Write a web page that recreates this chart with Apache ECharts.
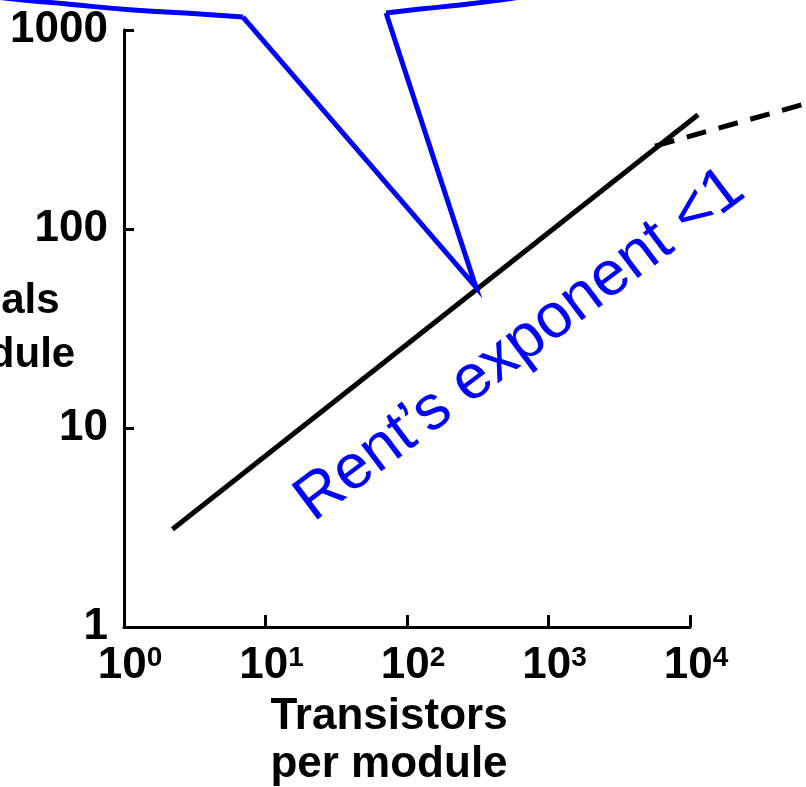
<!DOCTYPE html>
<html>
<head>
<meta charset="utf-8">
<script src="https://cdn.jsdelivr.net/npm/echarts@6/dist/echarts.min.js"></script>
<style>
html, body { margin: 0; padding: 0; background: #fff; }
#chart { width: 806px; height: 787px; }
</style>
</head>
<body>
<div id="chart"></div>
<script>
// values (log-log)
var xExponents = ['0', '1', '2', '3', '4'];
var yTickLabels = ['1', '10', '100', '1000'];
var rentLine = [[2.2, 3.1], [11400, 375]];
var rentBreak = [[5660, 261], [100000, 464]];
var calloutLeftCurve = [[0.1225, 1465], [0.193, 1415], [0.396, 1351], [1.158, 1260], [3.44, 1203], [6.93, 1162]];
var calloutStraight = [[6.93, 1162], [307, 51], [71.1, 1217]];
var calloutRightCurve = [[71.1, 1217], [123.6, 1275], [237, 1335], [454, 1415], [871, 1517]];

var font = 'Liberation Sans, Arial, sans-serif';
var myChart = echarts.init(document.getElementById('chart'));

// grid 0 carries the visible axes, grid 1 is the same mapping one decade wider
// so the lines that run past the axes are not cut off
var decadeX = 141.5, decadeY = 199;

option = {
    animation: false,
    backgroundColor: '#fff',
    grid: [{
            left: 124,
            right: 116,
            top: 30,
            bottom: 160,
            outerBoundsMode: 'none'
        },
        {
            left: 124 - decadeX,
            right: 116 - decadeX,
            top: 30 - decadeY,
            bottom: 160,
            outerBoundsMode: 'none'
        }
    ],
    xAxis: [{
            type: 'log',
            logBase: 10,
            min: 1,
            max: 10000,
            gridIndex: 0,
            name: 'Transistors\nper module',
            nameLocation: 'middle',
            nameGap: 62,
            nameTextStyle: {
                fontFamily: font,
                fontWeight: 'bold',
                fontSize: 44,
                lineHeight: 48,
                color: '#000',
                padding: [0, 36, 0, 0]
            },
            axisLine: { lineStyle: { color: '#000', width: 3 } },
            axisTick: { inside: true, length: 12, lineStyle: { color: '#000', width: 3 } },
            splitLine: { show: false },
            axisLabel: {
                margin: 17,
                formatter: function (v) {
                    var i = Math.round(Math.log10(v));
                    return '{b|10}{s|' + xExponents[i] + '}';
                },
                rich: {
                    b: { fontFamily: font, fontWeight: 'bold', fontSize: 44, color: '#000', padding: [0, 0, 0, 12] },
                    s: { fontFamily: font, fontWeight: 'bold', fontSize: 28, color: '#000', verticalAlign: 'top', padding: [0, 0, 16, 0] }
                }
            }
        },
        {
            type: 'log',
            logBase: 10,
            min: 0.1,
            max: 100000,
            gridIndex: 1,
            show: false
        }
    ],
    yAxis: [{
            type: 'log',
            logBase: 10,
            min: 1,
            max: 1000,
            gridIndex: 0,
            name: 'Terminals\nper module',
            nameLocation: 'middle',
            nameRotate: 0,
            nameGap: 162,
            nameMoveOverlap: false,
            nameTextStyle: {
                fontFamily: font,
                fontWeight: 'bold',
                fontSize: 42,
                lineHeight: 54,
                color: '#000',
                align: 'center',
                padding: [14, 0, 0, 0]
            },
            axisLine: { lineStyle: { color: '#000', width: 3 } },
            axisTick: { inside: true, length: 10, lineStyle: { color: '#000', width: 3 } },
            splitLine: { show: false },
            axisLabel: {
                margin: 16,
                fontFamily: font,
                fontWeight: 'bold',
                fontSize: 44,
                color: '#000',
                padding: [4, 0, 0, 0],
                formatter: function (v) {
                    return yTickLabels[Math.round(Math.log10(v))];
                }
            }
        },
        {
            type: 'log',
            logBase: 10,
            min: 1,
            max: 10000,
            gridIndex: 1,
            show: false
        }
    ],
    graphic: [{
        type: 'text',
        x: 520,
        y: 345,
        rotation: 37 * Math.PI / 180,
        style: {
            text: 'Rent\u2019s exponent <1',
            fontFamily: font,
            fontSize: 63,
            fill: '#0000ff',
            textAlign: 'center',
            textVerticalAlign: 'middle'
        }
    }],
    series: [{
            name: 'Rent',
            type: 'line',
            xAxisIndex: 1,
            yAxisIndex: 1,
            data: rentLine,
            symbol: 'none',
            clip: false,
            lineStyle: { color: '#000', width: 5 }
        },
        {
            name: 'Rent break',
            type: 'line',
            xAxisIndex: 1,
            yAxisIndex: 1,
            data: rentBreak,
            symbol: 'none',
            clip: false,
            lineStyle: { color: '#000', width: 5, type: [20, 13] }
        },
        {
            name: 'callout left',
            type: 'line',
            xAxisIndex: 1,
            yAxisIndex: 1,
            data: calloutLeftCurve,
            symbol: 'none',
            smooth: true,
            clip: false,
            lineStyle: { color: '#0000ff', width: 5 }
        },
        {
            name: 'callout',
            type: 'line',
            xAxisIndex: 1,
            yAxisIndex: 1,
            data: calloutStraight,
            symbol: 'none',
            clip: false,
            lineStyle: { color: '#0000ff', width: 5, join: 'miter' }
        },
        {
            name: 'callout right',
            type: 'line',
            xAxisIndex: 1,
            yAxisIndex: 1,
            data: calloutRightCurve,
            symbol: 'none',
            smooth: true,
            clip: false,
            lineStyle: { color: '#0000ff', width: 5 }
        }
    ]
};
myChart.setOption(option);
</script>
</body>
</html>
